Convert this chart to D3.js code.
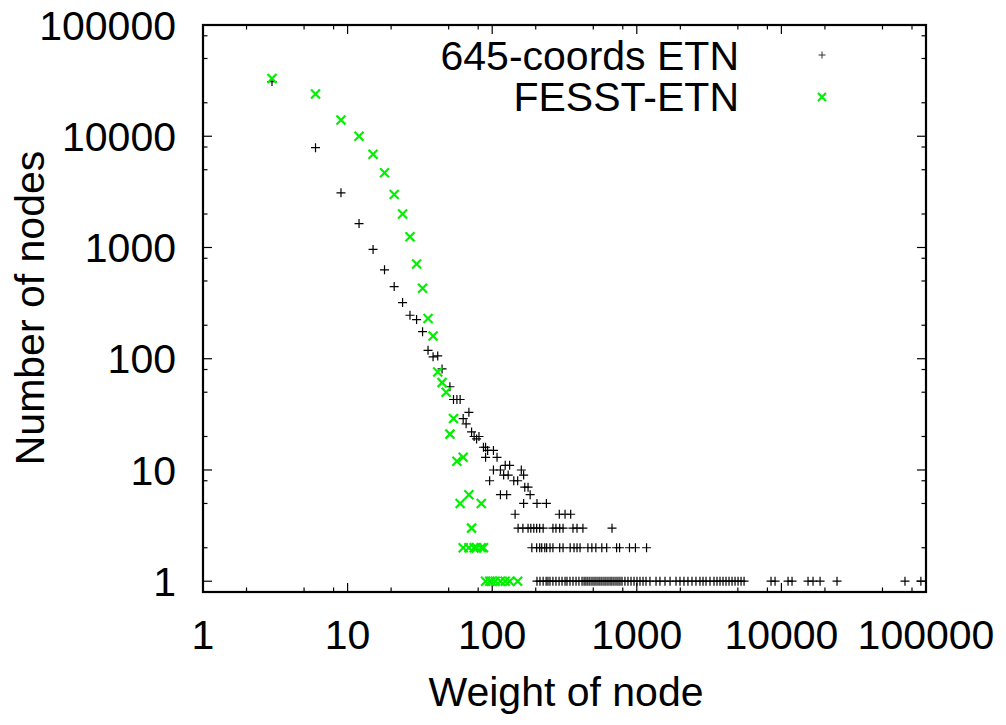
<!DOCTYPE html>
<html>
<head>
<meta charset="utf-8">
<script src="https://cdn.jsdelivr.net/npm/d3@7"></script>
<style>
  body { margin: 0; background: #fff; }
  text { font-family: "Liberation Sans", Arial, Helvetica, sans-serif; fill: #000; }
</style>
</head>
<body>
<svg id="chart" width="1006" height="725"></svg>
<script>
// Node-weight distributions: [weight of node, number of nodes]
const seriesNames = ["645-coords ETN", "FESST-ETN"];

const coordsEtnHead = [
  [3, 31000], [6, 7900], [9, 3100], [12, 1640], [15, 960], [18, 630], [21, 445],
  [24, 320], [27, 246], [30, 225], [33, 175], [36, 119], [39, 104], [42, 106],
  [45, 81], [51, 56], [54, 43], [57, 43], [60, 43], [63, 29], [66, 26], [69, 33],
  [72, 22], [75, 20], [78, 19], [81, 20], [87, 16], [90, 16], [93, 15], [102, 15],
  [90, 13], [108, 13], [102, 10], [114, 10], [96, 8], [120, 9], [123, 11], [132, 11],
  [129, 9], [141, 8], [150, 8], [159, 10], [165, 9], [168, 7], [177, 7], [183, 6],
  [114, 6], [126, 6], [165, 5], [204, 5], [237, 5], [144, 4], [291, 4], [319, 4], [349, 4]
];
// weights of the nodes that occur 3, 2 and 1 times
const coordsEtnThree = [151, 163, 177, 185, 194, 203, 213, 225, 263, 276, 293, 309, 362, 386, 424, 674];
const coordsEtnTwo = [188, 203, 213, 220, 231, 238, 251, 263, 293, 309, 346, 368, 386, 405, 459, 489,
  521, 573, 619, 725, 760, 890, 978, 1168];
const coordsEtnOne = [204, 214, 225, 236, 243, 251, 263, 276, 290, 304, 319, 329, 345, 362, 380, 398,
  418, 432, 445, 459, 474, 490, 506, 522, 539, 556, 574, 593, 612, 632, 653, 673, 695, 718, 741,
  765, 790, 828, 869, 912, 957, 1003, 1052, 1104, 1158, 1233, 1358, 1446, 1567, 1698, 1867, 1989,
  2119, 2258, 2408, 2565, 2734, 2870, 3011, 3208, 3418, 3586, 3762, 3946, 4140, 4343, 4556, 4779,
  5014, 5260, 5518, 8478, 9037, 11118, 11846, 15282, 16549, 18511, 24245, 71560, 92190];

const fesstEtn = [
  [3, 33000], [6, 24000], [9, 14000], [12, 10000], [15, 6900], [18, 4700], [21, 3000],
  [24, 2000], [27, 1250], [30, 710], [33, 430], [36, 230], [39, 160], [42, 76], [45, 61],
  [48, 50], [51, 21], [54, 29], [57, 12], [63, 13], [60, 5], [69, 6], [84, 5], [72, 3],
  [63, 2], [69, 2], [75, 2], [78, 2], [84, 2], [87, 2],
  [90, 1], [96, 1], [99, 1], [105, 1], [114, 1], [123, 1], [132, 1], [150, 1]
];

const xTickValues = [1, 10, 100, 1000, 10000, 100000];
const yTickValues = [1, 10, 100, 1000, 10000, 100000];
const minorFactors = [2, 5, 8];
const xTitle = "Weight of node";
const yTitle = "Number of nodes";

const coordsEtn = coordsEtnHead
  .concat(coordsEtnThree.map(w => [w, 3]))
  .concat(coordsEtnTwo.map(w => [w, 2]))
  .concat(coordsEtnOne.map(w => [w, 1]));

const svg = d3.select("#chart");
const frame = { left: 203, right: 926, top: 25, bottom: 592 };

const x = d3.scaleLog().domain([1, 100000]).range([frame.left, frame.right]);
const y = d3.scaleLog().domain([0.8, 100000]).range([frame.bottom, frame.top]);

const fontSize = 41;
const majorLen = 9, minorLen = 4.5;

// minor tick values inside each decade
function minors(scale) {
  const [lo, hi] = scale.domain();
  const out = [];
  for (let p = -1; p <= 5; p++) {
    minorFactors.forEach(f => {
      const v = f * Math.pow(10, p);
      if (v > lo * 1.0001 && v < hi * 0.9999) out.push(v);
    });
  }
  return out;
}

const ticks = svg.append("g").attr("stroke", "#000").attr("stroke-width", 1.2);

// x ticks, mirrored on the top edge
xTickValues.concat(minors(x)).forEach(v => {
  const len = xTickValues.includes(v) ? majorLen : minorLen;
  const px = x(v);
  ticks.append("line").attr("x1", px).attr("x2", px).attr("y1", frame.bottom).attr("y2", frame.bottom - len);
  ticks.append("line").attr("x1", px).attr("x2", px).attr("y1", frame.top).attr("y2", frame.top + len);
});
// y ticks, mirrored on the right edge
yTickValues.concat(minors(y)).forEach(v => {
  const len = yTickValues.includes(v) ? majorLen : minorLen;
  const py = y(v);
  ticks.append("line").attr("y1", py).attr("y2", py).attr("x1", frame.left).attr("x2", frame.left + len);
  ticks.append("line").attr("y1", py).attr("y2", py).attr("x1", frame.right).attr("x2", frame.right - len);
});

// tick labels
svg.append("g").selectAll("text").data(xTickValues).join("text")
  .attr("x", d => x(d)).attr("y", 649)
  .attr("text-anchor", "middle").attr("font-size", fontSize)
  .text(d => d);
svg.append("g").selectAll("text").data(yTickValues).join("text")
  .attr("x", 176).attr("y", d => y(d)).attr("dy", "0.355em")
  .attr("text-anchor", "end").attr("font-size", fontSize)
  .text(d => d);

// axis titles
svg.append("text").attr("x", 566).attr("y", 706)
  .attr("text-anchor", "middle").attr("font-size", fontSize).text(xTitle);
svg.append("text").attr("transform", "translate(44,308) rotate(-90)")
  .attr("text-anchor", "middle").attr("font-size", fontSize).text(yTitle);

// point symbols
function plusPath(cx, cy, h) {
  return `M${cx - h},${cy}H${cx + h}M${cx},${cy - h}V${cy + h}`;
}
function crossPath(cx, cy, h) {
  return `M${cx - h},${cy - h}L${cx + h},${cy + h}M${cx - h},${cy + h}L${cx + h},${cy - h}`;
}

svg.append("g").selectAll("path").data(coordsEtn).join("path")
  .attr("d", d => plusPath(x(d[0]), y(d[1]), 4.5))
  .attr("fill", "none").attr("stroke", "#000").attr("stroke-width", 1.2);

const green = "#00f000";
svg.append("g").selectAll("path").data(fesstEtn).join("path")
  .attr("d", d => crossPath(x(d[0]), y(d[1]), 4.5))
  .attr("fill", "none").attr("stroke", green).attr("stroke-width", 2.2);

// legend
const legend = svg.append("g");
const legendRows = [
  { name: seriesNames[0], base: 69.5, sym: 55, path: plusPath, h: 3.5, color: "#333", w: 1 },
  { name: seriesNames[1], base: 110.5, sym: 97, path: crossPath, h: 4, color: green, w: 2.2 }
];
legendRows.forEach(r => {
  legend.append("text").attr("x", 739).attr("y", r.base)
    .attr("text-anchor", "end").attr("font-size", fontSize).text(r.name);
  legend.append("path").attr("d", r.path(822, r.sym, r.h))
    .attr("fill", "none").attr("stroke", r.color).attr("stroke-width", r.w);
});

// frame
svg.append("rect")
  .attr("x", frame.left).attr("y", frame.top)
  .attr("width", frame.right - frame.left).attr("height", frame.bottom - frame.top)
  .attr("fill", "none").attr("stroke", "#000").attr("stroke-width", 2.2);
</script>
</body>
</html>
